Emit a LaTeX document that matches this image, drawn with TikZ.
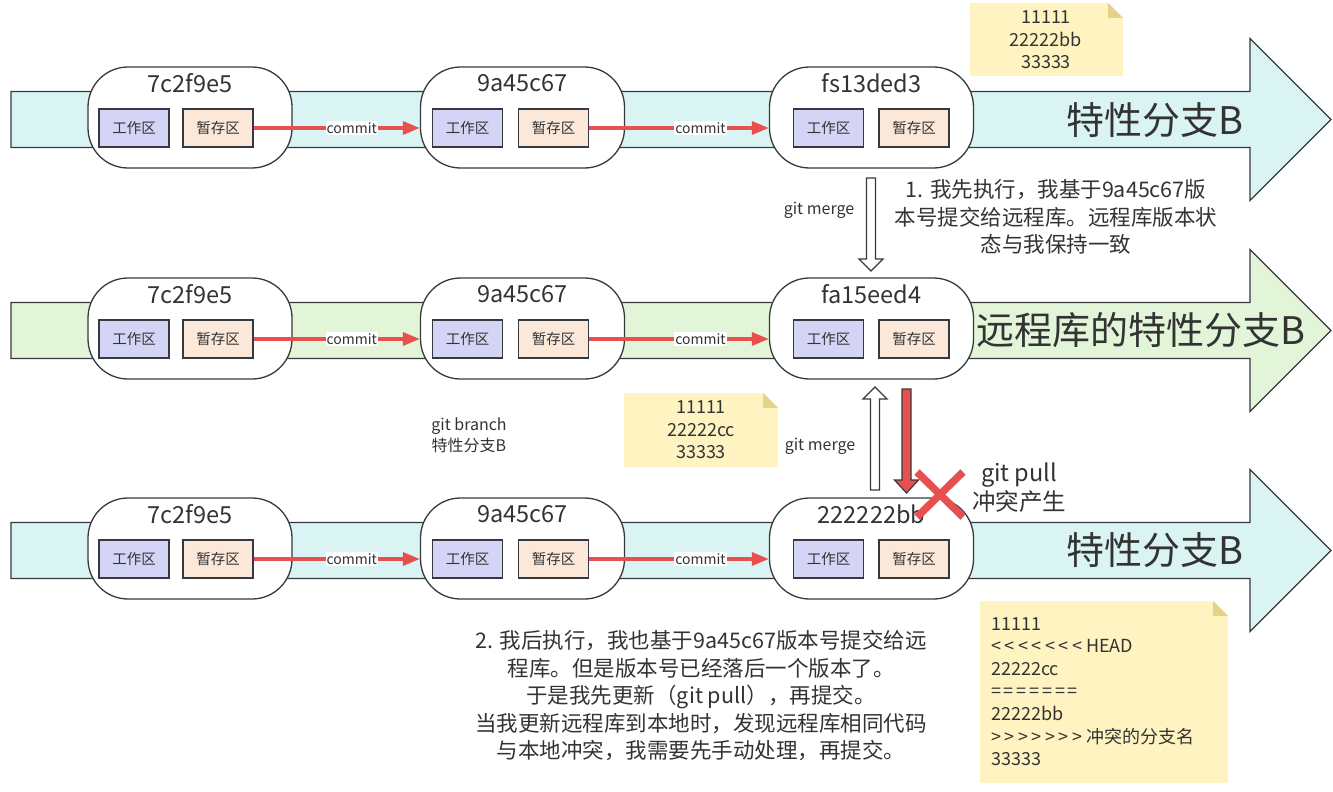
\documentclass[tikz,border=0pt]{standalone}
\usepackage{fontspec}
\setmainfont{Noto Sans CJK SC}
\usetikzlibrary{arrows.meta,calc}
\definecolor{ink}{HTML}{333333}
\definecolor{edge}{HTML}{36393D}
\definecolor{bandB}{HTML}{DAF4F4}
\definecolor{bandG}{HTML}{E3F5D9}
\definecolor{wfill}{HTML}{D4D5F6}
\definecolor{sfill}{HTML}{FBE8D9}
\definecolor{redc}{HTML}{E85050}
\definecolor{notey}{HTML}{FFF4C1}
\definecolor{notef}{HTML}{E6D18B}
\newcommand\bandarrow[2]{%
  \draw[bandline,fill=#2] (11,#1-28) -- (1250,#1-28) -- (1250,#1-81) -- (1331,#1)
    -- (1250,#1+81) -- (1250,#1+28) -- (11,#1+28) -- cycle;}
\newcommand\commitnode[6]{%
  \node[cbox] (#1) at (#2,#3) {};
  \node[ctitle] (#1t) at (#2,#3-34.5) {#4};
  \node[wbox] (#1w) at (#5,#3+10.5) {工作区};
  \node[sbox] (#1s) at (#6,#3+10.5) {暂存区};}
\newcommand\commitlink[3]{%
  \draw[commitarrow] (#1s.east) -- node[clabel,pos=#3]{commit} (#1s.east -| #2.west);}
\newcommand\blockarrow[5]{%
  \draw[#1] (#2-4.5,#3) -- (#2+4.5,#3) -- (#2+4.5,#4) -- (#2+12,#4) -- (#2,#5)
    -- (#2-12,#4) -- (#2-4.5,#4) -- cycle;}
\newcommand\notebox[4]{%
  \fill[notey] (#1,#2) -- (#3-15,#2) -- (#3,#2+15) -- (#3,#4) -- (#1,#4) -- cycle;
  \fill[notef] (#3-15,#2) -- (#3,#2+15) -- (#3-15,#2+15) -- cycle;}
\newcommand\lts{<\kern3.5pt<\kern3.5pt<\kern3.5pt<\kern3.5pt<\kern3.5pt<\kern3.5pt<}
\newcommand\gts{>\kern3.5pt>\kern3.5pt>\kern3.5pt>\kern3.5pt>\kern3.5pt>\kern3.5pt>}
\newcommand\eqs{=\kern2.8pt=\kern2.8pt=\kern2.8pt=\kern2.8pt=\kern2.8pt=\kern2.8pt=}
\begin{document}
\begin{tikzpicture}[x=1pt,y=-1pt,
  bandline/.style={draw=edge,line width=1.1pt},
  cbox/.style={draw=edge,line width=1.3pt,fill=white,rounded corners=40pt,minimum width=204pt,minimum height=101pt,inner sep=0pt},
  ctitle/.style={inner sep=0pt,text=ink,font=\fontsize{23.5}{27}\selectfont},
  wbox/.style={draw=edge,line width=1.3pt,fill=wfill,minimum width=70pt,minimum height=38pt,inner sep=0pt,text=ink,font=\fontsize{14.5}{16}\selectfont},
  sbox/.style={wbox,fill=sfill},
  commitarrow/.style={draw=redc,line width=3.3pt,-{Triangle[length=17pt,width=13pt]}},
  clabel/.style={fill=white,inner sep=1pt,text=ink,font=\fontsize{14}{16}\selectfont},
  hollow/.style={draw=edge,line width=1.2pt,fill=white},
  redblock/.style={draw=edge,line width=1.2pt,fill=redc},
  xmark/.style={draw=redc,line width=7.5pt},
  txt/.style={inner sep=0pt,text=ink,align=center},
  big/.style={txt,font=\fontsize{38}{44}\selectfont},
  body/.style={txt,font=\fontsize{21.5}{27.5}\selectfont},
  small/.style={txt,font=\fontsize{16}{21}\selectfont},
  notetxt/.style={txt,font=\fontsize{18}{22.6}\selectfont}]
\useasboundingbox (0,0) rectangle (1333,792);

% branch arrows
\bandarrow{119.5}{bandB}
\bandarrow{330.5}{bandG}
\bandarrow{550.5}{bandB}

% commits
\commitnode{a1}{190}{117.5}{7c2f9e5}{134}{218}
\commitnode{a2}{522.5}{117.5}{9a45c67}{467.5}{553.5}
\commitnode{a3}{871.5}{117.5}{fs13ded3}{828.5}{914}
\commitnode{b1}{190}{328.5}{7c2f9e5}{134}{218}
\commitnode{b2}{522.5}{328.5}{9a45c67}{467.5}{553.5}
\commitnode{b3}{871.5}{328.5}{fa15eed4}{828.5}{914}
\commitnode{c1}{190}{548.5}{7c2f9e5}{134}{218}
\commitnode{c2}{522.5}{548.5}{9a45c67}{467.5}{553.5}
\commitnode{c3}{871.5}{548.5}{222222bb}{828.5}{914}

\commitlink{a1}{a2}{0.59}
\commitlink{a2}{a3}{0.62}
\commitlink{b1}{b2}{0.59}
\commitlink{b2}{b3}{0.62}
\commitlink{c1}{c2}{0.59}
\commitlink{c2}{c3}{0.62}

% branch names
\node[big] (lb1) at (1155,120) {特性分支B};
\node[big] (lb2) at (1141,330) {远程库的特性分支B};
\node[big] (lb3) at (1155,550) {特性分支B};

% merge / pull arrows
\blockarrow{hollow}{871}{178}{259}{271}
\blockarrow{hollow}{875}{490}{399}{387}
\blockarrow{redblock}{906.5}{389}{480}{493}
\node[small] (gm1) at (819,210) {git merge};
\node[small] (gm2) at (820,446) {git merge};
\node[small] (gb) at (469,435) {git branch\\特性分支B};

% conflict mark
\draw[xmark] (917,472) -- (963,517);
\draw[xmark] (963,472) -- (917,517);
\node[txt,font=\fontsize{23.5}{29}\selectfont] (gp) at (1019,488) {git pull\\冲突产生};

% notes
\notebox{970}{3}{1123}{76}
\node[notetxt] (n1) at (1046,40) {11111\\22222bb\\33333};
\notebox{624}{393}{778}{467}
\node[notetxt] (n2) at (701,430) {11111\\22222cc\\33333};
\notebox{980}{601}{1228}{783}
\node[notetxt,align=left,anchor=west] (n3) at (991,691.5) {11111\\\lts{} HEAD\\22222cc\\\eqs\\22222bb\\\gts{} 冲突的分支名\\33333};

% explanations
\node[body] (t1) at (1056,217) {1. 我先执行，我基于9a45c67版\\本号提交给远程库。远程库版本状\\态与我保持一致};
\node[body] (t2) at (701,696) {2. 我后执行，我也基于9a45c67版本号提交给远\\程库。但是版本号已经落后一个版本了。\\于是我先更新（git pull），再提交。\\当我更新远程库到本地时，发现远程库相同代码\\与本地冲突，我需要先手动处理，再提交。};
\end{tikzpicture}
\end{document}
